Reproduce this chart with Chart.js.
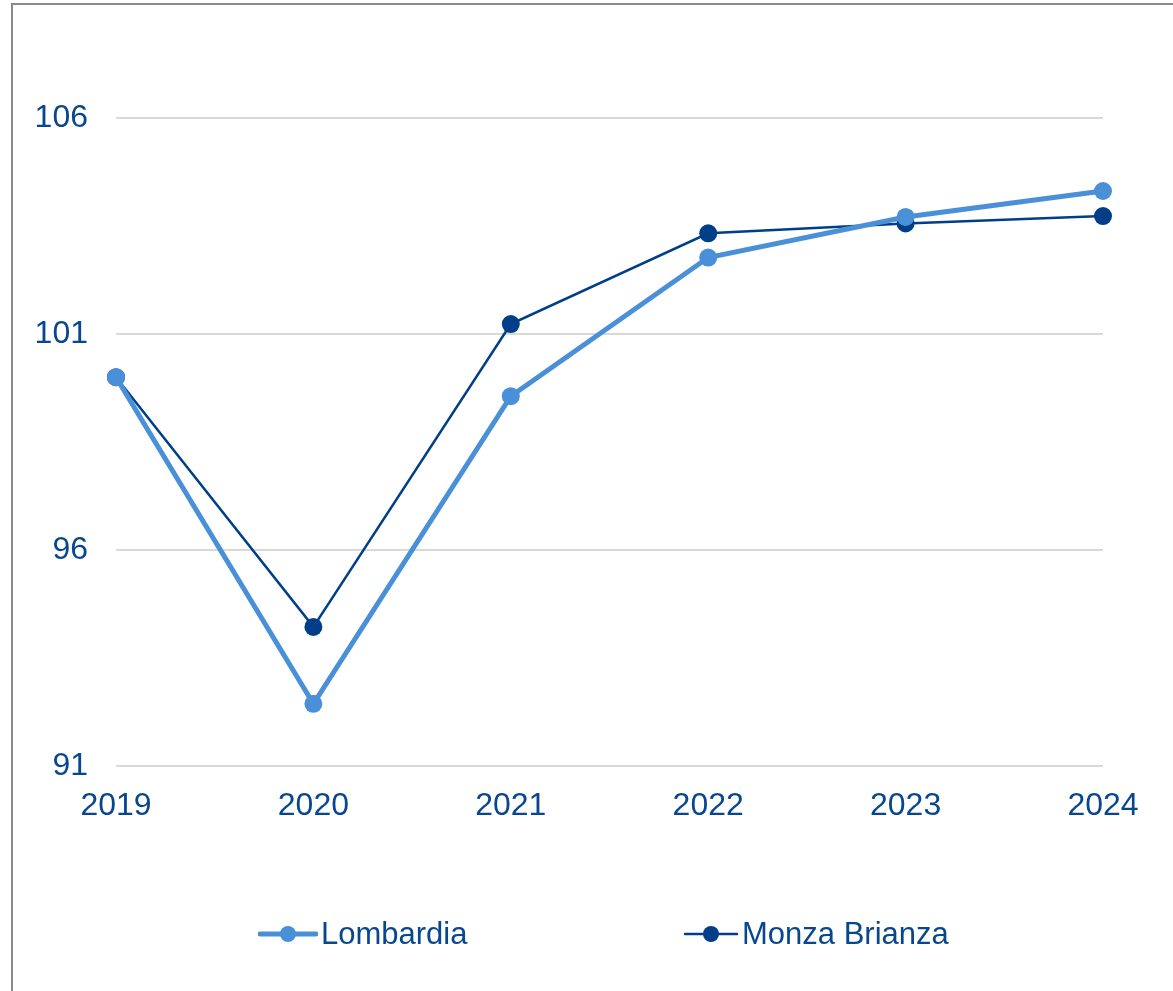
<!DOCTYPE html>
<html>
<head>
<meta charset="utf-8">
<script src="https://cdn.jsdelivr.net/npm/chart.js@4/dist/chart.umd.min.js"></script>
<style>
  html, body { margin: 0; padding: 0; background: #fff; overflow: hidden; }
  #wrap { position: relative; width: 1173px; height: 991px; }
  #frame { position: absolute; left: 11px; top: 3px; width: 1200px; height: 1100px; border: 2px solid #8a8a8a; box-sizing: border-box; }
  #chart { position: absolute; left: 0; top: 0; }
  #legend { position: absolute; top: 914px; left: 0; width: 1173px; height: 40px; }
  .item { position: absolute; top: 0; display: flex; align-items: center; height: 40px;
          font-family: "Liberation Sans", Arial, sans-serif; font-size: 31px; color: #08478f; }
  .item canvas { margin-right: 3px; }
</style>
</head>
<body>
<div id="wrap">
  <div id="frame"></div>
  <canvas id="chart" width="1173" height="991"></canvas>
  <div id="legend"></div>
</div>
<script>
// Data yang dibaca dari grafik
const years = ["2019", "2020", "2021", "2022", "2023", "2024"];
const lombardia = [100.0, 92.44, 99.56, 102.77, 103.71, 104.31];
const monzaBrianza = [100.0, 94.22, 101.23, 103.33, 103.56, 103.73];
const yTicks = [91, 96, 101, 106];

const textColor = "#08478f";
const fontFamily = "'Liberation Sans', Arial, sans-serif";

const ctx = document.getElementById("chart").getContext("2d");

const chart = new Chart(ctx, {
    type: "line",
    data: {
        labels: years,
        datasets: [
            {
                label: "Lombardia",
                data: lombardia,
                borderColor: "#4a90d9",
                backgroundColor: "#4a90d9",
                borderWidth: 5,
                pointRadius: 9,
                pointBorderWidth: 0,
                tension: 0
            },
            {
                label: "Monza Brianza",
                data: monzaBrianza,
                borderColor: "#003f88",
                backgroundColor: "#003f88",
                borderWidth: 2.5,
                pointRadius: 9,
                pointBorderWidth: 0,
                tension: 0
            }
        ]
    },
    options: {
        responsive: false,
        animation: false,
        layout: {
            padding: { left: 0, right: 70, top: 118, bottom: 165 }
        },
        plugins: {
            legend: { display: false },
            tooltip: { enabled: false }
        },
        scales: {
            x: {
                offset: false,
                grid: { display: false, drawTicks: false },
                border: { display: false },
                ticks: {
                    color: textColor,
                    font: { family: fontFamily, size: 32 },
                    padding: 21,
                    maxRotation: 0
                },
                afterFit(scale) { scale.height = 60; }
            },
            y: {
                min: 91,
                max: 106,
                grid: { color: "#d9d9d9", lineWidth: 2, drawTicks: false },
                border: { display: false },
                afterBuildTicks(scale) {
                    scale.ticks = yTicks.map(v => ({ value: v }));
                },
                ticks: {
                    color: textColor,
                    font: { family: fontFamily, size: 32 },
                    padding: 28
                },
                afterFit(scale) { scale.width = 116; }
            }
        }
    }
});

// Legenda HTML dari dataset chart
function makeSymbol(ds, width) {
    const c = document.createElement("canvas");
    c.width = width;
    c.height = 24;
    const g = c.getContext("2d");
    g.strokeStyle = ds.borderColor;
    g.lineWidth = ds.borderWidth;
    g.lineCap = "round";
    g.beginPath();
    g.moveTo(2, 12);
    g.lineTo(width - 2, 12);
    g.stroke();
    g.fillStyle = ds.backgroundColor;
    g.beginPath();
    g.arc(width / 2, 12, 8, 0, Math.PI * 2);
    g.fill();
    return c;
}

const legendPos = [258, 683];
const symbolWidth = [60, 56];
const legend = document.getElementById("legend");
chart.data.datasets.forEach((ds, i) => {
    const item = document.createElement("div");
    item.className = "item";
    item.style.left = legendPos[i] + "px";
    item.appendChild(makeSymbol(ds, symbolWidth[i]));
    const span = document.createElement("span");
    span.textContent = ds.label;
    item.appendChild(span);
    legend.appendChild(item);
});
</script>
</body>
</html>
